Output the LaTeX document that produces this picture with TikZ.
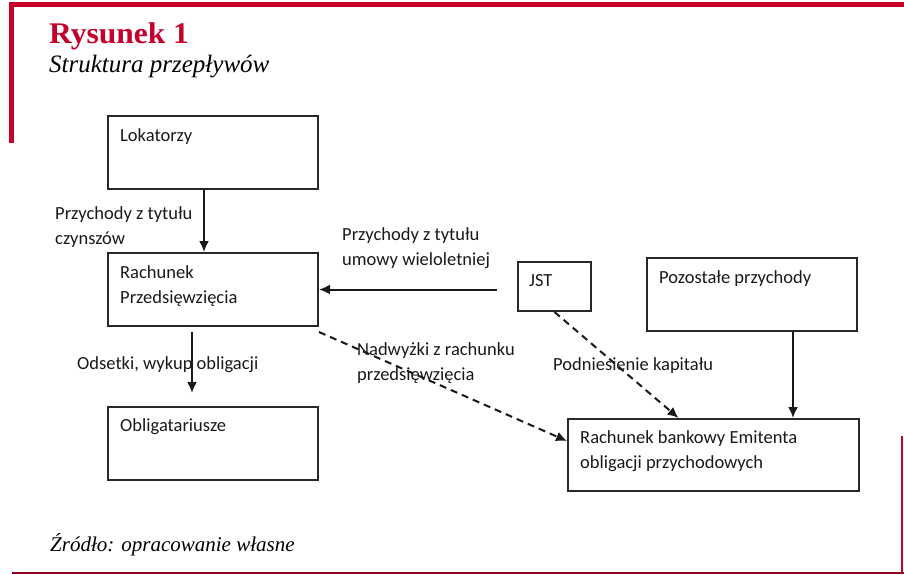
\documentclass[tikz,border=0pt]{standalone}
\usepackage{fontspec}
\setmainfont{Liberation Serif}
\newfontfamily\boxfont{Carlito}
\usetikzlibrary{arrows.meta,calc,positioning}
\definecolor{framered}{RGB}{196,0,42}
\definecolor{boxgray}{RGB}{40,40,40}
\tikzset{%
	block/.style  = {draw=boxgray, line width=2pt, rectangle, anchor=north west, inner sep=0pt},
	txt/.style    = {font=\boxfont\fontsize{18.5}{25}\selectfont, text=black!90, anchor=base west, inner sep=0pt, align=left},
	arrow/.style  = {line width=2pt, draw=black!90, -{Latex[length=11pt,width=10pt]}},
	darrow/.style = {arrow, dash pattern=on 7pt off 5pt},
}
\begin{document}
\begin{tikzpicture}[x=1pt,y=-1pt]
	\useasboundingbox (0,0) rectangle (904,574);
	% frame and caption
	\draw[framered, line width=4.5pt] (11.5,143) -- (11.5,4.5) -- (904,4.5);
	\draw[framered, line width=2pt] (902,436) -- (902,574);
	\draw[framered!75!black, line width=1.5pt] (12,573) -- (904,573);
	\node[anchor=base west, inner sep=0pt, text=framered, font=\bfseries\fontsize{30}{32}\selectfont] (title) at (49,43) {\scalebox{1.05}[1]{Rysunek 1}};
	\node[anchor=base west, inner sep=0pt, font=\itshape\fontsize{25}{27}\selectfont] (subtitle) at (49,72) {Struktura przepływów};
	\node[anchor=base west, inner sep=0pt, font=\itshape\fontsize{21}{23}\selectfont] (source) at (50,551) {Źródło: opracowanie własne};
	% boxes
	\node[block, minimum width=210pt, minimum height=73pt] (lok) at (107,115) {};
	\node[block, minimum width=210pt, minimum height=73pt] (rp) at (107,252) {};
	\node[block, minimum width=210pt, minimum height=73pt] (obl) at (107,406) {};
	\node[block, minimum width=73pt, minimum height=49pt] (jst) at (517,261) {};
	\node[block, minimum width=210pt, minimum height=73pt] (poz) at (646,257) {};
	\node[block, minimum width=291pt, minimum height=72pt] (bank) at (567,418) {};
	\node[txt] (lokT) at (120,141) {Lokatorzy};
	\node[txt] (rpT) at (120,303) {Rachunek\\Przedsięwzięcia};
	\node[txt] (oblT) at (120,431) {Obligatariusze};
	\node[txt] (jstT) at (529,286) {JST};
	\node[txt] (pozT) at (659,283) {Pozostałe przychody};
	\node[txt] (bankT) at (580,468) {Rachunek bankowy Emitenta\\obligacji przychodowych};
	% flow labels
	\node[txt] (czynsz) at (55,244) {Przychody z tytułu\\czynszów};
	\node[txt] (umowa) at (342,265) {Przychody z tytułu\\umowy wieloletniej};
	\node[txt] (odsetki) at (77,369) {Odsetki, wykup obligacji};
	\node[txt] (nadwyzki) at (357,380) {Nadwyżki z rachunku\\przedsięwzięcia};
	\node[txt] (kapital) at (553,370) {Podniesienie kapitału};
	% flows
	\draw[arrow] ([xshift=-9pt]lok.south) -- ([xshift=-9pt]rp.north);
	\draw[arrow, shorten <=20pt] (jst.west |- rp.east) -- (rp.east);
	\draw[arrow, shorten <=5pt, shorten >=13pt] ([xshift=-21pt]rp.south) -- ([xshift=-21pt]obl.north);
	\draw[arrow] ([xshift=41pt]poz.south) -- ([xshift=41pt]poz.south |- bank.north);
	\draw[darrow] ([yshift=-5pt]rp.south east) -- ([yshift=14pt]bank.west);
	\draw[darrow] (jst.south) -- ([xshift=-35pt]bank.north);
\end{tikzpicture}
\end{document}
